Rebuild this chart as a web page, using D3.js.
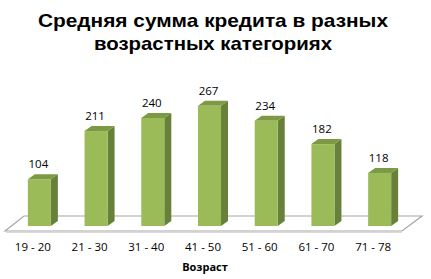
<!DOCTYPE html>
<html><head><meta charset="utf-8">
<script src="https://cdn.jsdelivr.net/npm/d3@7"></script>
<style>html,body{margin:0;padding:0;background:#fff;}svg{display:block;}</style>
</head><body>
<svg id="c" width="431" height="279"></svg>
<script>
const categories = ["19 - 20","21 - 30","31 - 40","41 - 50","51 - 60","61 - 70","71 - 78"];
const values = [104,211,240,267,234,182,118];
const titleLines = ["Средняя сумма кредита в разных","возрастных категориях"];
const axisTitle = "Возраст";

const svg = d3.select("#c");
const font = "Open Sans, 'Noto Sans', sans-serif";
const tfont = "'Liberation Sans', Arial, sans-serif";

const x = d3.scaleBand().domain(categories).range([11,408]).paddingInner(0.594).paddingOuter(0.297);
const y = d3.scaleLinear().domain([0,300]).range([226,91]);
const dx = 7, dy = -5;

// floor
svg.append("polygon")
  .attr("points","5,231 24,216 422,216 402,231")
  .attr("fill","#fff").attr("stroke","#a6a6a6").attr("stroke-width",1.2);
svg.append("line").attr("x1",6).attr("x2",402).attr("y1",232.5).attr("y2",232.5)
  .attr("stroke","#d9d9d9").attr("stroke-width",1.2);

const g = svg.append("g");
categories.forEach((c,i)=>{
  const x0 = x(c), w = x.bandwidth(), yt = y(values[i]), yb = y(0);
  g.append("polygon")
    .attr("points",`${x0+w},${yt} ${x0+w+dx},${yt+dy} ${x0+w+dx},${yb+dy} ${x0+w},${yb}`)
    .attr("fill","#68813a");
  g.append("polygon")
    .attr("points",`${x0},${yt} ${x0+dx},${yt+dy} ${x0+w+dx},${yt+dy} ${x0+w},${yt}`)
    .attr("fill","#7c9a45");
  g.append("rect").attr("x",x0).attr("y",yt).attr("width",w).attr("height",yb-yt)
    .attr("fill","#9bbb59");
  g.append("text").attr("x",x0+w/2-1).attr("y",yt-11)
    .attr("text-anchor","middle").attr("font-family",font).attr("font-size",11.5)
    .attr("fill","#000").text(values[i]);
  g.append("text").attr("x",x0+w/2-6.5).attr("y",251)
    .attr("text-anchor","middle").attr("font-family",font).attr("font-size",11.5)
    .attr("fill","#000").text(c);
});

svg.append("text").attr("x",205).attr("y",271).attr("text-anchor","middle")
  .attr("font-family",font).attr("font-weight","bold").attr("font-size",11)
  .text(axisTitle);

const tl = [{t:titleLines[0],y:27,w:350},{t:titleLines[1],y:50,w:238}];
tl.forEach(d=>{
  svg.append("text").attr("x",213).attr("y",d.y).attr("text-anchor","middle")
    .attr("font-family",tfont).attr("font-weight","bold").attr("font-size",19)
    .attr("textLength",d.w).attr("lengthAdjust","spacingAndGlyphs")
    .attr("fill","#000").text(d.t);
});
</script>
</body></html>
